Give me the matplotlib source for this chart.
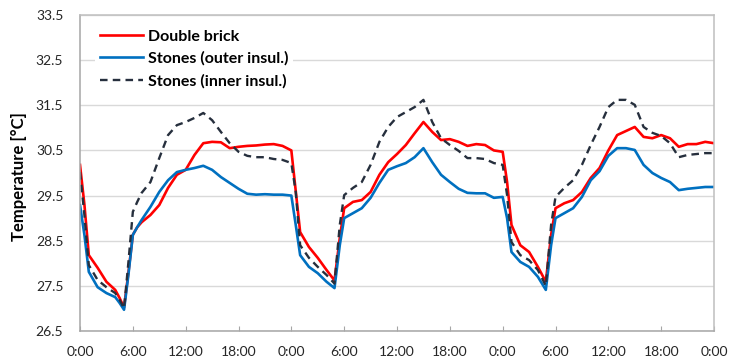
import numpy as np
import matplotlib
matplotlib.use('Agg')
import matplotlib.pyplot as plt

plt.rcParams['font.family'] = ['Lato', 'DejaVu Sans']

# time in hours since the first 0:00
hours = [0, 0.5, 1, 2, 3, 4, 4.5, 5, 5.5, 6, 6.5, 7, 8, 9, 10, 11, 12, 13, 14, 15,
         16, 17, 18, 19, 20, 21, 22, 23, 24, 24.5, 25, 26, 27, 28, 28.9, 29.5, 30,
         31, 32, 33, 34, 35, 36, 37, 38, 39, 40, 41, 42, 43, 44, 45, 46, 47, 48,
         48.5, 49, 50, 51, 52, 52.9, 53.5, 54, 55, 56, 57, 58, 59, 60, 61, 62, 63,
         64, 65, 66, 67, 68, 69, 70, 71, 72]

double_brick = [30.18, 29.3, 28.18, 27.9, 27.59, 27.41, 27.23, 27.02, 27.8, 28.63,
                28.8, 28.91, 29.07, 29.29, 29.67, 29.96, 30.07, 30.4, 30.66, 30.69,
                30.68, 30.55, 30.58, 30.6, 30.61, 30.63, 30.64, 30.6, 30.5, 29.6,
                28.69, 28.36, 28.12, 27.85, 27.62, 28.56, 29.22, 29.36, 29.4, 29.58,
                29.96, 30.24, 30.42, 30.62, 30.88, 31.13, 30.91, 30.73, 30.75, 30.69,
                30.6, 30.64, 30.62, 30.5, 30.47, 29.8, 28.85, 28.4, 28.25, 27.92,
                27.59, 28.63, 29.22, 29.33, 29.4, 29.58, 29.89, 30.11, 30.5, 30.84,
                30.93, 31.02, 30.8, 30.77, 30.84, 30.77, 30.58, 30.64, 30.64, 30.69,
                30.66]

stones_outer = [29.29, 28.63, 27.81, 27.47, 27.34, 27.25, 27.12, 26.97, 27.75, 28.63,
                28.8, 28.96, 29.25, 29.58, 29.84, 30.02, 30.07, 30.11, 30.16, 30.07,
                29.91, 29.78, 29.65, 29.54, 29.52, 29.53, 29.52, 29.52, 29.5, 28.85,
                28.18, 27.92, 27.78, 27.59, 27.45, 28.4, 29.0, 29.11, 29.22, 29.45,
                29.78, 30.07, 30.15, 30.22, 30.35, 30.55, 30.24, 29.96, 29.8, 29.65,
                29.56, 29.55, 29.55, 29.45, 29.47, 29.0, 28.25, 28.03, 27.92, 27.7,
                27.41, 28.4, 29.0, 29.11, 29.22, 29.47, 29.84, 30.04, 30.38, 30.55,
                30.55, 30.51, 30.18, 30.0, 29.89, 29.8, 29.62, 29.65, 29.67, 29.69,
                29.69]

stones_inner = [30.02, 29.07, 27.96, 27.63, 27.47, 27.34, 27.19, 27.0, 28.03, 29.14,
                29.36, 29.56, 29.8, 30.33, 30.84, 31.06, 31.13, 31.22, 31.33, 31.17,
                30.91, 30.66, 30.47, 30.38, 30.35, 30.35, 30.31, 30.29, 30.22, 29.58,
                28.4, 28.12, 27.92, 27.74, 27.55, 28.85, 29.51, 29.67, 29.8, 30.18,
                30.69, 31.02, 31.24, 31.35, 31.46, 31.62, 31.13, 30.77, 30.62, 30.49,
                30.33, 30.33, 30.31, 30.22, 30.18, 29.51, 28.47, 28.18, 28.07, 27.85,
                27.5, 28.85, 29.47, 29.67, 29.84, 30.18, 30.62, 31.02, 31.46, 31.62,
                31.62, 31.51, 31.02, 30.89, 30.82, 30.66, 30.35, 30.4, 30.42, 30.44,
                30.44]

x_ticks = np.arange(0, 73, 6)
x_labels = ['0:00', '6:00', '12:00', '18:00'] * 3 + ['0:00']
y_ticks = np.arange(26.5, 33.6, 1.0)

fig = plt.figure(figsize=(7.3, 3.6), dpi=100)
ax = fig.add_axes([0.1096, 0.0806, 0.8685, 0.8777])

ax.plot(hours, double_brick, color='#ff0000', lw=1.9, label='Double brick')
ax.plot(hours, stones_outer, color='#0070c0', lw=1.9, label='Stones (outer insul.)')
ax.plot(hours, stones_inner, color='#262f3d', lw=1.7, ls=(0, (3.2, 2.2)),
        label='Stones (inner insul.)')

ax.set_xlim(0, 72)
ax.set_ylim(26.5, 33.5)
ax.set_xticks(x_ticks)
ax.set_xticklabels(x_labels)
ax.set_yticks(y_ticks)
ax.set_yticklabels(['%.1f' % v for v in y_ticks])

ax.grid(axis='y', color='#d9d9d9', lw=1)
ax.set_axisbelow(True)
for s in ax.spines.values():
    s.set_color('#bfbfbf')
    s.set_linewidth(1.1)
ax.spines['left'].set_color('#a6a6a6')
ax.spines['bottom'].set_color('#a6a6a6')

ax.tick_params(axis='x', direction='in', length=3.5, color='#a6a6a6', pad=11,
               labelsize=10, labelcolor='#262626')
ax.tick_params(axis='y', length=0, pad=12, labelsize=10, labelcolor='#262626')

ax.set_ylabel('Temperature [°C]', fontsize=12, fontweight='bold', color='#000000')
ax.yaxis.set_label_coords(-0.084, 0.49)

leg = ax.legend(loc='upper left', bbox_to_anchor=(0.0115, 0.995), frameon=True,
                prop={'weight': 'bold', 'size': 11.5}, handlelength=2.7,
                handletextpad=0.3, labelspacing=0.5, borderpad=0.3)
leg.get_frame().set_facecolor('white')
leg.get_frame().set_edgecolor('none')
leg.get_frame().set_alpha(1)

fig.savefig('out.png', dpi=100)
